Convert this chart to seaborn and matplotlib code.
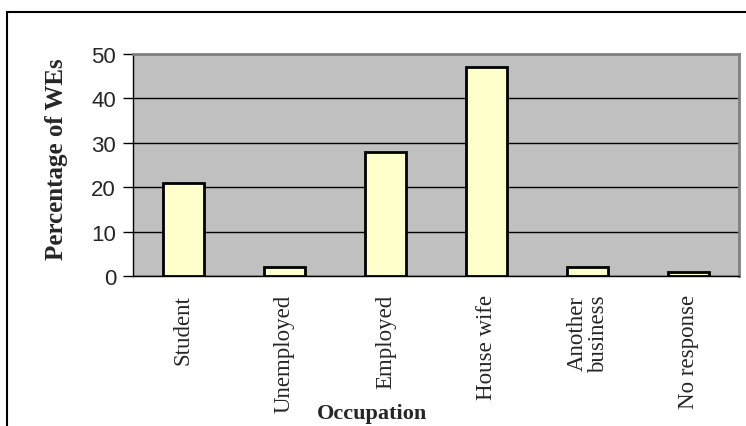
import matplotlib
matplotlib.use("Agg")
import matplotlib.pyplot as plt
import seaborn as sns
import pandas as pd
import numpy as np
from matplotlib.patches import Rectangle

# ---------------- data ----------------
occupations = ["Student", "Unemployed", "Employed", "House wife",
               "Another\nbusiness", "No response"]
percentages = [21, 2, 28, 47, 2, 1]
y_ticks = [0, 10, 20, 30, 40, 50]

df = pd.DataFrame({"Occupation": occupations, "Percentage": percentages})

# ---------------- plot ----------------
sns.set_style("white")
fig = plt.figure(figsize=(7.46, 4.27), dpi=100)
ax = fig.add_axes([0.178, 0.351, 0.813, 0.520])

ax.set_facecolor("#C0C0C0")
ax.yaxis.grid(True, color="black", linewidth=1.0)
ax.set_axisbelow(True)

sns.barplot(data=df, x="Occupation", y="Percentage", ax=ax,
            color="#FFFFCC", edgecolor="black", linewidth=2,
            width=0.41, saturation=1)

ax.set_xlim(-0.5, len(occupations) - 0.5)
ax.set_ylim(0, 50)
ax.set_yticks(y_ticks)
ax.set_yticklabels([str(t) for t in y_ticks], fontsize=16,
                   family="Liberation Sans")

ax.set_xticks(range(len(occupations)))
ax.set_xticklabels(occupations, rotation=90, va="top", ha="center",
                   fontsize=16.5, family="Liberation Serif",
                   multialignment="center", linespacing=1.0)
ax.tick_params(axis="x", which="major", length=0, pad=13)
ax.set_xticks(np.arange(-0.5, len(occupations), 1), minor=True)
ax.tick_params(axis="x", which="minor", length=7, width=1, color="black",
               direction="out")
ax.tick_params(axis="y", length=7, width=1, color="black", direction="out",
               pad=5, left=True)

for side in ["left", "bottom"]:
    ax.spines[side].set_color("black")
    ax.spines[side].set_linewidth(1)
for side in ["top", "right"]:
    ax.spines[side].set_visible(True)
    ax.spines[side].set_color("#808080")
    ax.spines[side].set_linewidth(2)

ax.set_xlabel("Occupation", fontsize=16, fontweight="bold",
              family="Liberation Serif", va="center")
ax.xaxis.set_label_coords(0.394, -0.615)
ax.set_ylabel("Percentage of WEs", fontsize=18, fontweight="bold",
              family="Liberation Serif", va="center")
ax.yaxis.set_label_coords(-0.125, 0.53)

# outer chart border
fig.patches.append(Rectangle((7 / 746, -0.1), 1.2, 1 - 13 / 427 + 0.1,
                             transform=fig.transFigure, fill=False,
                             edgecolor="black", linewidth=1.5))

fig.savefig("out.png", dpi=100)
